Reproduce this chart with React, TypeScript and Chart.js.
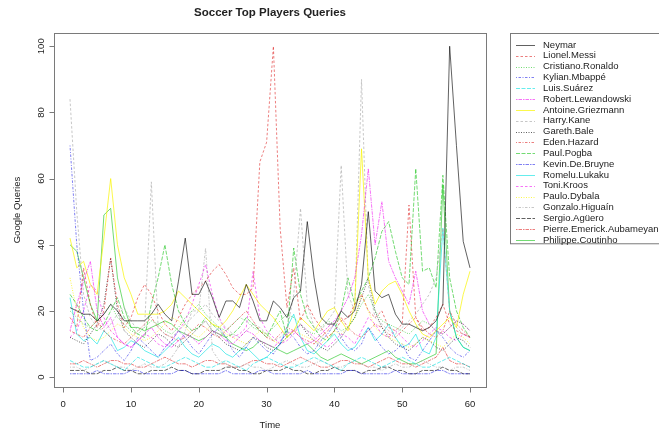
import { useEffect, useRef } from "react";
import { Chart, registerables } from "chart.js";

Chart.register(...registerables);

// Weekly Google query index (0-100) per player, weeks 1..60
const weeks: number[] = Array.from({ length: 60 }, (_, i) => i + 1);

const players: string[] = [
  "Neymar",
  "Lionel.Messi",
  "Cristiano.Ronaldo",
  "Kylian.Mbappé",
  "Luis.Suárez",
  "Robert.Lewandowski",
  "Antoine.Griezmann",
  "Harry.Kane",
  "Gareth.Bale",
  "Eden.Hazard",
  "Paul.Pogba",
  "Kevin.De.Bruyne",
  "Romelu.Lukaku",
  "Toni.Kroos",
  "Paulo.Dybala",
  "Gonzalo.Higuaín",
  "Sergio.Agüero",
  "Pierre.Emerick.Aubameyang",
  "Philippe.Coutinho",
];

const neymar = [21,20,19,19,17,19,22,20,17,17,17,17,19,22,19,17,29,42,25,25,29,24,18,23,23,21,28,23,17,17,23,21,18,24,26,47,30,18,16,16,20,18,20,28,50,26,24,25,19,16,16,15,14,15,17,22,100,70,41,33];
const messi = [18,15,33,22,15,20,36,22,15,18,24,28,25,20,16,14,18,22,25,27,29,32,34,31,27,25,25,27,65,71,100,45,21,33,17,22,18,15,12,14,17,18,22,25,20,18,20,15,14,16,52,18,14,15,18,22,16,14,13,12];
const ronaldo = [20,18,16,15,17,19,22,18,16,14,13,15,17,16,14,13,15,18,20,22,19,17,15,14,16,18,17,15,14,13,15,17,19,18,16,14,13,15,17,16,14,15,18,22,25,20,17,16,15,14,13,15,17,16,14,13,15,17,16,14];
const mbappe = [70,40,20,5,6,8,10,7,5,8,12,10,8,6,9,11,14,12,9,7,10,13,15,12,8,6,9,12,10,8,7,10,14,12,9,7,8,11,13,16,12,9,8,10,15,12,9,7,8,10,6,5,8,11,14,12,9,7,6,8];
const suarez = [5,4,3,3,4,5,4,3,2,4,6,5,4,3,3,4,5,6,5,4,3,3,4,5,4,3,2,4,5,6,5,4,3,3,4,5,6,5,4,3,2,4,5,6,5,4,3,4,5,6,5,4,3,3,4,5,6,5,4,3];
const lewandowski = [14,22,29,35,20,15,18,12,10,9,11,13,15,12,10,9,11,13,12,10,12,14,13,11,10,12,14,13,11,10,9,11,13,14,12,10,11,13,15,17,20,24,30,43,63,40,53,35,30,26,22,32,20,16,14,13,15,17,16,14];
const griezmann = [42,33,35,28,25,42,60,40,30,25,19,19,19,19,20,22,26,24,22,20,18,16,15,17,20,24,28,25,22,20,18,15,12,14,18,16,14,17,20,21,17,14,22,69,30,22,26,28,29,25,20,16,13,12,14,16,18,15,25,32];
const kane = [84,50,25,18,15,14,16,19,21,17,14,15,59,15,13,12,14,16,18,20,22,19,17,15,13,12,14,16,15,13,11,12,14,25,51,22,15,14,17,20,64,25,20,90,28,18,16,14,13,15,17,19,22,25,30,45,20,15,13,12];
const bale = [12,11,10,13,16,22,36,20,14,12,10,9,11,13,12,10,9,11,13,15,17,14,12,10,9,8,10,12,11,9,8,10,12,14,16,13,11,9,8,10,12,15,18,24,30,20,15,12,10,9,8,10,12,11,9,8,10,12,11,9];
const hazard = [14,13,12,15,17,14,12,11,10,12,14,16,18,15,13,12,11,12,14,16,15,13,12,14,16,18,20,17,14,12,11,13,15,14,12,11,10,12,14,16,18,15,13,12,14,16,15,13,12,14,16,18,15,13,12,14,20,16,14,12];
const pogba = [25,22,18,15,14,16,20,24,18,15,13,12,22,30,40,28,20,16,14,15,18,16,14,12,13,15,18,16,14,12,16,20,12,39,25,18,15,12,11,14,20,30,22,26,30,36,44,47,38,30,28,63,32,33,27,61,30,20,15,12];
const debruyne = [1,1,1,1,2,1,1,1,1,2,2,1,1,1,1,1,2,2,1,1,1,1,1,2,1,1,1,1,2,2,1,1,1,1,1,2,1,1,1,1,1,2,2,1,1,1,1,1,2,1,1,1,1,1,2,2,1,1,1,1];
const lukaku = [24,13,11,12,10,14,12,8,9,11,10,8,7,6,8,10,12,9,7,6,8,10,9,7,6,8,9,7,5,6,8,10,15,19,12,8,7,9,11,13,10,8,9,12,15,11,13,16,12,9,10,13,8,7,12,45,20,12,9,8];
const kroos = [12,14,20,28,26,18,14,12,10,9,11,13,12,10,9,11,14,17,22,28,34,25,18,14,12,13,15,32,18,14,12,10,11,13,16,14,12,10,9,11,13,12,10,14,18,16,13,12,14,12,10,9,11,13,15,14,12,11,13,12];
const dybala = [30,20,15,12,11,12,14,16,15,13,12,11,12,14,16,18,17,15,13,12,14,16,15,13,12,11,10,12,14,13,11,10,12,14,13,12,11,10,12,14,13,15,18,25,20,15,13,12,11,10,9,10,12,11,10,9,11,13,12,10];
const higuain = [3,3,2,3,4,5,4,3,3,2,3,4,3,3,4,6,9,14,20,20,39,8,5,4,3,3,4,3,3,2,3,4,5,4,3,3,4,5,4,3,3,4,5,4,3,3,2,3,4,3,3,4,5,4,3,3,2,3,3,2];
const aguero = [2,2,2,1,1,2,2,3,2,2,1,1,2,2,2,3,2,2,1,1,2,2,2,3,3,2,2,1,1,2,2,2,3,2,2,1,1,2,2,3,2,2,2,1,2,2,3,3,2,2,1,1,2,2,2,3,2,2,1,1];
const aubameyang = [4,4,5,4,3,4,5,5,4,4,3,3,4,5,6,5,4,4,3,4,5,5,4,4,3,3,4,5,5,4,4,3,4,5,6,5,4,3,3,4,5,5,4,4,3,4,5,6,5,4,4,3,4,5,6,9,5,4,4,3];
const coutinho = [40,38,30,22,17,49,51,30,21,15,15,14,15,16,17,16,14,13,12,11,12,14,13,12,10,9,8,9,11,10,9,8,7,8,9,10,8,6,5,6,7,6,5,4,5,6,7,8,6,5,4,4,5,6,7,58,20,12,9,8];

const seriesValues: number[][] = [
  neymar, messi, ronaldo, mbappe, suarez, lewandowski, griezmann, kane, bale,
  hazard, pogba, debruyne, lukaku, kroos, dybala, higuain, aguero, aubameyang, coutinho,
];

const xTicks = [0, 10, 20, 30, 40, 50, 60];
const yTicks = [0, 20, 40, 60, 80, 100];

// base R palette and line types, recycled over the series (thin, soft strokes)
const palette = [
  "rgba(0,0,0,0.62)",
  "rgba(220,20,20,0.55)",
  "rgba(0,190,0,0.55)",
  "rgba(0,0,230,0.5)",
  "rgba(0,225,225,0.6)",
  "rgba(240,0,240,0.55)",
  "rgba(250,245,0,0.7)",
  "rgba(175,175,175,0.7)",
];
const lineTypes: number[][] = [[], [2.5, 2], [1, 1.5], [1, 1.5, 2.5, 1.5], [4, 1.5], [1.5, 1, 3.5, 1]];

const FONT = '"Liberation Sans", Arial, sans-serif';

const rBasePlot = {
  id: "rBasePlot",
  afterDraw(chart: any) {
    const { ctx, chartArea } = chart;
    const xs = chart.scales.x;
    const ys = chart.scales.y;
    const L = Math.round(chartArea.left) + 0.5;
    const R = Math.round(chartArea.right) + 0.5;
    const T = Math.round(chartArea.top) + 0.5;
    const B = Math.round(chartArea.bottom) + 0.5;
    ctx.save();
    ctx.strokeStyle = "#7a7a7a";
    ctx.lineWidth = 1;
    ctx.setLineDash([]);
    ctx.strokeRect(L, T, R - L, B - T);

    // x axis
    ctx.beginPath();
    const x0 = Math.round(xs.getPixelForValue(xTicks[0])) + 0.5;
    const x1 = Math.round(xs.getPixelForValue(xTicks[xTicks.length - 1])) + 0.5;
    ctx.moveTo(x0, B);
    ctx.lineTo(x1, B);
    xTicks.forEach((t) => {
      const px = Math.round(xs.getPixelForValue(t)) + 0.5;
      ctx.moveTo(px, B);
      ctx.lineTo(px, B + 5);
    });
    // y axis
    const y0 = Math.round(ys.getPixelForValue(yTicks[0])) + 0.5;
    const y1 = Math.round(ys.getPixelForValue(yTicks[yTicks.length - 1])) + 0.5;
    ctx.moveTo(L, y0);
    ctx.lineTo(L, y1);
    yTicks.forEach((t) => {
      const py = Math.round(ys.getPixelForValue(t)) + 0.5;
      ctx.moveTo(L, py);
      ctx.lineTo(L - 5, py);
    });
    ctx.stroke();

    ctx.fillStyle = "#222";
    ctx.font = `9.5px ${FONT}`;
    ctx.textAlign = "center";
    ctx.textBaseline = "middle";
    xTicks.forEach((t) => {
      ctx.fillText(String(t), xs.getPixelForValue(t), 404);
    });
    yTicks.forEach((t) => {
      ctx.save();
      ctx.translate(41, ys.getPixelForValue(t));
      ctx.rotate(-Math.PI / 2);
      ctx.fillText(String(t), 0, 0);
      ctx.restore();
    });

    // axis titles
    const midX = (chartArea.left + chartArea.right) / 2;
    const midY = (chartArea.top + chartArea.bottom) / 2;
    ctx.fillText("Time", midX, 425);
    ctx.save();
    ctx.translate(17, midY);
    ctx.rotate(-Math.PI / 2);
    ctx.fillText("Google Queries", 0, 0);
    ctx.restore();

    ctx.font = `bold 11.5px ${FONT}`;
    ctx.fillText("Soccer Top Players Queries", midX, 13);

    // legend
    const lx = 510.5;
    const ly = 33.5;
    const rowH = 10.83;
    ctx.strokeStyle = "#7a7a7a";
    ctx.strokeRect(lx, ly, 200, 19 * rowH + 4.5);
    ctx.font = `9.5px ${FONT}`;
    ctx.textAlign = "left";
    players.forEach((name, i) => {
      const yy = 45 + i * rowH;
      ctx.beginPath();
      ctx.strokeStyle = palette[i % palette.length];
      ctx.setLineDash(lineTypes[i % lineTypes.length]);
      ctx.moveTo(516, Math.round(yy) + 0.5);
      ctx.lineTo(535, Math.round(yy) + 0.5);
      ctx.stroke();
      ctx.fillStyle = "#222";
      ctx.fillText(name, 543, yy);
    });
    ctx.restore();
  },
};

export default function App() {
  const canvasRef = useRef<HTMLCanvasElement | null>(null);

  useEffect(() => {
    const canvas = canvasRef.current;
    if (!canvas) return;
    const datasets = seriesValues.map((vals, i) => ({
      label: players[i],
      data: vals.map((v, k) => ({ x: weeks[k], y: v })),
      borderColor: palette[i % palette.length],
      borderDash: lineTypes[i % lineTypes.length],
      borderWidth: 1,
      pointRadius: 0,
      fill: false,
      tension: 0,
    }));
    const chart = new Chart(canvas, {
      type: "line",
      data: { datasets },
      options: {
        animation: false,
        responsive: false,
        maintainAspectRatio: false,
        layout: { padding: { left: 54, right: 173, top: 33, bottom: 45 } },
        plugins: {
          legend: { display: false },
          tooltip: { enabled: false },
          title: { display: false },
        },
        scales: {
          x: { type: "linear", min: -1.36, max: 62.36, display: false },
          y: { type: "linear", min: -3, max: 104, display: false },
        },
      },
      plugins: [rBasePlot],
    });
    return () => chart.destroy();
  }, []);

  return (
    <div style={{ position: "fixed", left: 0, top: 0, width: 659, height: 432, background: "#fff" }}>
      <canvas ref={canvasRef} width={659} height={432} style={{ width: 659, height: 432 }} />
    </div>
  );
}
